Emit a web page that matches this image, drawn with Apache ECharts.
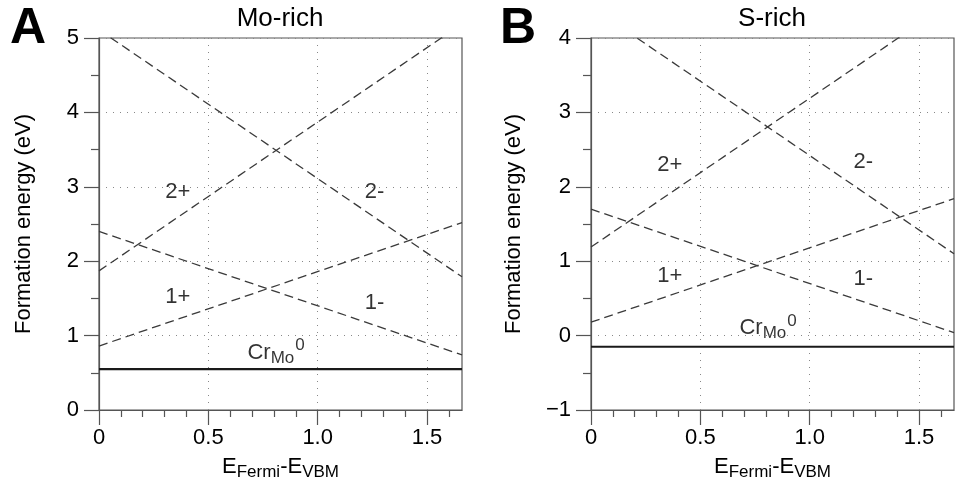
<!DOCTYPE html>
<html>
<head>
<meta charset="utf-8">
<script src="https://cdn.jsdelivr.net/npm/echarts@6/dist/echarts.min.js"></script>
<style>
html, body { margin: 0; padding: 0; background: #fff; }
#chart { width: 955px; height: 489px; }
</style>
</head>
<body>
<div id="chart"></div>
<script>
// Fermi level range (eV), the two ends of each straight line
const fermiEnds = [0, 1.66]

// formation energy (eV) at E=0 and E=1.66, Mo-rich
const moNeutral = [0.55, 0.55]
const moPlus1 = [0.86, 2.52]
const moMinus1 = [2.40, 0.74]
const moPlus2 = [1.87, 5.19]
const moMinus2 = [5.11, 1.79]

// S-rich
const sNeutral = [-0.15, -0.15]
const sPlus1 = [0.18, 1.84]
const sMinus1 = [1.70, 0.04]
const sPlus2 = [1.19, 4.51]
const sMinus2 = [4.42, 1.10]

// axis ticks
const xTicks = [0, 0.5, 1.0, 1.5]
const xMinorTicks = [0.1, 0.2, 0.3, 0.4, 0.6, 0.7, 0.8, 0.9, 1.1, 1.2, 1.3, 1.4, 1.6]

// charge state labels (data coords)
const chargeNames = ['2+', '2-', '1+', '1-', 'Cr']
const moLabelX = [0.36, 1.26, 0.36, 1.26, 0.81]
const moLabelY = [2.93, 2.93, 1.52, 1.44, 0.77]
const sLabelX = [0.36, 1.245, 0.36, 1.245, 0.81]
const sLabelY = [2.29, 2.33, 0.80, 0.76, 0.10]

const font = 'Liberation Sans, Arial, Helvetica, sans-serif'
const axisColor = '#555'
const textColor = '#000'

const chart = echarts.init(document.getElementById('chart'))

// 主轴 (刻度、标签、网格线)
function mainX(gridIndex) {
	return {
		type: 'value',
		gridIndex: gridIndex,
		min: 0,
		max: fermiEnds[1],
		position: 'bottom',
		name: '{e|E}{s|Fermi}{e|-E}{s|VBM}',
		nameLocation: 'middle',
		nameGap: 43,
		nameTextStyle: {
			color: textColor,
			fontFamily: font,
			rich: {
				e: { fontSize: 22, fontFamily: font, color: textColor },
				s: { fontSize: 17, fontFamily: font, color: textColor, padding: [11, 0, 0, 0] },
			},
		},
		axisLine: { show: true, onZero: false, lineStyle: { color: axisColor, width: 1.2 } },
		axisTick: { show: true, inside: false, length: 15, customValues: xTicks, lineStyle: { color: axisColor, width: 1.2 } },
		axisLabel: {
			customValues: xTicks,
			margin: 17,
			fontSize: 22,
			fontFamily: font,
			color: textColor,
			formatter: v => (v === 0 ? '0' : v.toFixed(1)),
		},
		splitLine: { show: true, lineStyle: { color: '#888', width: 1, type: [1, 6] } },
	}
}

// 次刻度轴 (只画短刻度)
function minorX(gridIndex) {
	return {
		type: 'value',
		gridIndex: gridIndex,
		min: 0,
		max: fermiEnds[1],
		position: 'bottom',
		axisLine: { show: false, onZero: false },
		axisTick: { show: true, length: 7, customValues: xMinorTicks, lineStyle: { color: axisColor, width: 1.2 } },
		axisLabel: { show: false },
		splitLine: { show: false },
	}
}

function yAxis(gridIndex, min, max, gap) {
	return {
		type: 'value',
		gridIndex: gridIndex,
		min: min,
		max: max,
		interval: 1,
		name: 'Formation energy (eV)',
		nameLocation: 'middle',
		nameGap: gap,
		nameTextStyle: { fontSize: 22, fontFamily: font, color: textColor },
		axisLine: { show: true, onZero: false, lineStyle: { color: axisColor, width: 1.2 } },
		axisTick: { show: true, length: 15, lineStyle: { color: axisColor, width: 1.2 } },
		minorTick: { show: true, splitNumber: 2, length: 8, lineStyle: { color: axisColor, width: 1.2 } },
		axisLabel: {
			margin: 20,
			fontSize: 22,
			fontFamily: font,
			color: textColor,
			formatter: v => (v < 0 ? '\u2212' + Math.abs(v) : String(v)),
		},
		splitLine: { show: true, lineStyle: { color: '#888', width: 1, type: [1, 6] } },
	}
}

function lineSeries(xi, yi, vals, solid) {
	return {
		type: 'line',
		xAxisIndex: xi,
		yAxisIndex: yi,
		data: fermiEnds.map((x, i) => [x, vals[i]]),
		symbol: 'none',
		silent: true,
		clip: true,
		lineStyle: solid
			? { color: '#1a1a1a', width: 2.2 }
			: { color: '#3a3a3a', width: 1.3, type: [9, 5] },
	}
}

function labelSeries(xi, yi, lx, ly) {
	return {
		type: 'scatter',
		xAxisIndex: xi,
		yAxisIndex: yi,
		symbolSize: 1,
		silent: true,
		itemStyle: { color: 'rgba(0,0,0,0)' },
		data: chargeNames.map((n, i) => [lx[i], ly[i], n]),
		label: {
			show: true,
			position: 'inside',
			color: textColor,
			fontSize: 22,
			fontFamily: font,
			formatter: p => (p.data[2] === 'Cr' ? '{b|Cr}{sub|Mo}{sup|0}' : p.data[2]),
			rich: {
				b: { fontSize: 22, fontFamily: font, color: textColor },
				sub: { fontSize: 17, fontFamily: font, color: textColor, padding: [11, 0, 0, 0] },
				sup: { fontSize: 17, fontFamily: font, color: textColor, padding: [0, 0, 14, 1] },
			},
		},
	}
}

const titleStyle = { fontSize: 26, fontWeight: 'normal', fontFamily: font, color: textColor }
const letterStyle = { fontSize: 50, fontWeight: 'bold', fontFamily: font, color: '#000' }

const option = {
	animation: false,
	backgroundColor: '#fff',
	title: [
		{ text: 'A', left: 10, top: 4, textStyle: letterStyle, padding: 0 },
		{ text: 'B', left: 500, top: 4, textStyle: letterStyle, padding: 0 },
		{ text: 'Mo-rich', left: 280, top: 6, textAlign: 'center', textStyle: titleStyle, padding: 0 },
		{ text: 'S-rich', left: 772, top: 6, textAlign: 'center', textStyle: titleStyle, padding: 0 },
	],
	grid: [
		{ left: 99, top: 38, width: 363, height: 372, show: true, borderColor: axisColor, borderWidth: 1.2 },
		{ left: 591, top: 38, width: 363, height: 372, show: true, borderColor: axisColor, borderWidth: 1.2 },
	],
	xAxis: [mainX(0), minorX(0), mainX(1), minorX(1)],
	yAxis: [yAxis(0, 0, 5, 64), yAxis(1, -1, 4, 66)],
	series: [
		lineSeries(0, 0, moNeutral, true),
		lineSeries(0, 0, moPlus1),
		lineSeries(0, 0, moMinus1),
		lineSeries(0, 0, moPlus2),
		lineSeries(0, 0, moMinus2),
		labelSeries(0, 0, moLabelX, moLabelY),
		lineSeries(2, 1, sNeutral, true),
		lineSeries(2, 1, sPlus1),
		lineSeries(2, 1, sMinus1),
		lineSeries(2, 1, sPlus2),
		lineSeries(2, 1, sMinus2),
		labelSeries(2, 1, sLabelX, sLabelY),
	],
}

chart.setOption(option)
</script>
</body>
</html>
